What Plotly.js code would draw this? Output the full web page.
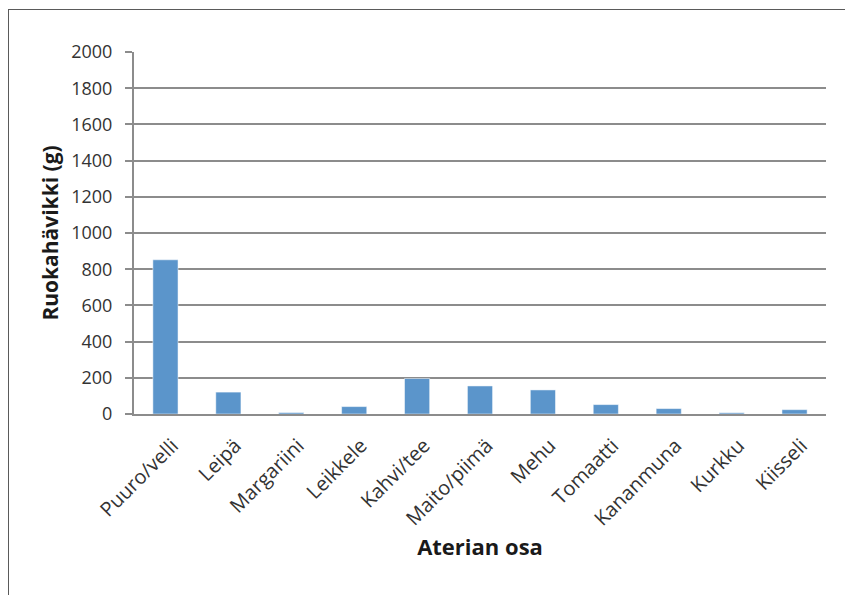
<!DOCTYPE html>
<html>
<head>
<meta charset="utf-8">
<script src="https://cdn.plot.ly/plotly-3.0.1.min.js"></script>
<style>
  html, body { margin: 0; padding: 0; background: #fff; }
  #wrap { position: relative; width: 845px; height: 595px; overflow: hidden; }
  #chart { width: 845px; height: 595px; }
  #frame { position: absolute; left: 8px; top: 9px; width: 900px; height: 700px;
           border-left: 1.5px solid #5a5a5a; border-top: 1.5px solid #5a5a5a;
           pointer-events: none; box-sizing: border-box; }
</style>
</head>
<body>
<div id="wrap">
  <div id="chart"></div>
  <div id="frame"></div>
</div>
<script>
const categories = ["Puuro/velli", "Leipä", "Margariini", "Leikkele", "Kahvi/tee",
                    "Maito/piimä", "Mehu", "Tomaatti", "Kananmuna", "Kurkku", "Kiisseli"];
const wasteGrams = [852, 121, 8, 41, 196, 155, 133, 52, 30, 7, 24];
const yTickValues = [0, 200, 400, 600, 800, 1000, 1200, 1400, 1600, 1800, 2000];
const xTitle = "Aterian osa";
const yTitle = "Ruokahävikki (g)";

const fontFamily = "'Open Sans', 'Noto Sans', sans-serif";

const trace = {
  type: "bar",
  x: categories,
  y: wasteGrams,
  marker: { color: "#5b95cb", line: { color: "#ffffff", width: 0.5 } },
  hoverinfo: "x+y"
};

const layout = {
  width: 845,
  height: 595,
  margin: { l: 134, r: 19, t: 52, b: 181 },
  paper_bgcolor: "#ffffff",
  plot_bgcolor: "#ffffff",
  showlegend: false,
  bargap: 0.6,
  font: { family: fontFamily, color: "#333333", size: 17 },
  xaxis: {
    type: "category",
    tickangle: -45,
    tickfont: { family: fontFamily, size: 20, color: "#333333" },
    ticklabelstandoff: 10,
    ticklabelshift: 7,
    showgrid: false,
    showline: true,
    linecolor: "#8c8c8c",
    linewidth: 2,
    ticks: "",
    zeroline: false,
    title: { text: "<b>" + xTitle + "</b>", font: { family: fontFamily, size: 22, color: "#1a1a1a" }, standoff: 8 }
  },
  yaxis: {
    range: [0, 2000],
    tickvals: yTickValues,
    ticktext: yTickValues.map(String),
    tickfont: { family: fontFamily, size: 18, color: "#333333" },
    ticklabelstandoff: 9,
    showgrid: true,
    gridcolor: "#8c8c8c",
    gridwidth: 2,
    showline: true,
    linecolor: "#8c8c8c",
    linewidth: 2,
    ticks: "outside",
    ticklen: 7,
    tickwidth: 2,
    tickcolor: "#8c8c8c",
    zeroline: false,
    title: { text: "<b>" + yTitle + "</b>", font: { family: fontFamily, size: 21, color: "#1a1a1a" }, standoff: 7 }
  }
};

Plotly.newPlot("chart", [trace], layout, { displayModeBar: false, staticPlot: true });
</script>
</body>
</html>
